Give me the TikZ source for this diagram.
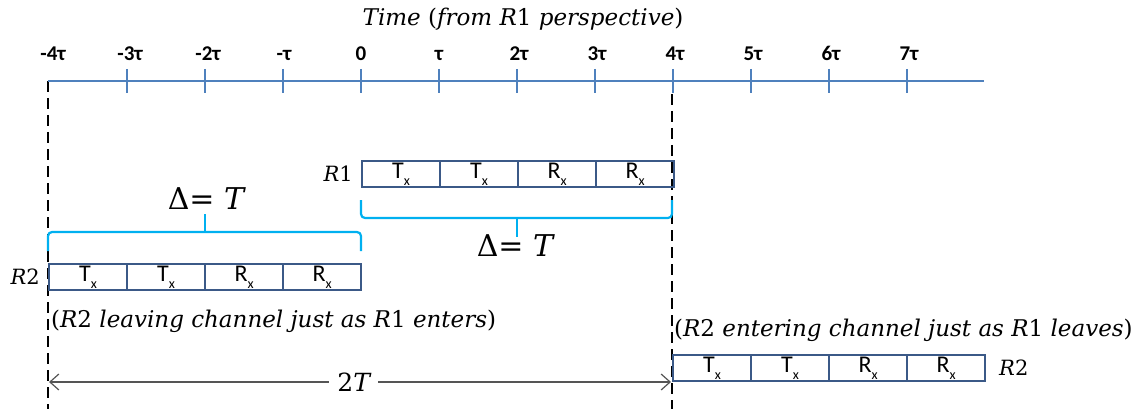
\documentclass[tikz,border=0pt]{standalone}
\usepackage{fontspec}
\newfontfamily\calfont{Carlito}
\newfontfamily\ser{DejaVu Serif}
\usetikzlibrary{arrows.meta}
\definecolor{axisblue}{RGB}{79,129,189}
\definecolor{boxblue}{RGB}{59,89,135}
\definecolor{bracecyan}{RGB}{0,176,240}
\definecolor{arrowgray}{RGB}{85,85,85}
\newcommand{\tx}[1]{#1\raisebox{-0.28em}{\fontsize{14}{14}\selectfont x}}
\newcommand{\up}[1]{{\upshape #1}}
\begin{document}
\begin{tikzpicture}[x=1pt,y=-1pt,
  axisline/.style={draw=axisblue,line width=2.6pt},
  tickline/.style={draw=axisblue,line width=2.4pt},
  ticklabel/.style={font=\calfont\bfseries\fontsize{21}{21}\selectfont,inner sep=0pt,anchor=base},
  cell/.style={draw=boxblue,line width=2.2pt,minimum width=78pt,minimum height=26pt,inner sep=0pt,anchor=west,font=\calfont\fontsize{24}{24}\selectfont},
  marker/.style={draw=black,line width=2.4pt,dash pattern=on 11pt off 6pt},
  bracket/.style={draw=bracecyan,line width=2.2pt,rounded corners=4pt},
  mlabel/.style={font=\ser\itshape\fontsize{21}{21}\selectfont,inner sep=0pt},
  longlabel/.style={font=\ser\itshape\fontsize{23}{23}\selectfont,inner sep=0pt,anchor=base west},
  biglabel/.style={font=\ser\fontsize{30}{30}\selectfont,inner sep=0pt,anchor=base},
  span/.style={draw=arrowgray,line width=1.2pt,{Straight Barb[length=9pt,width=16pt]}-{Straight Barb[length=9pt,width=16pt]}}]
\useasboundingbox (0,0) rectangle (1140,409);
% title
\node[mlabel,anchor=base,font=\ser\itshape\fontsize{23}{23}\selectfont] (title) at (523,26) {Time \up{(}from R\up{1} perspective\up{)}};
% dashed markers
\coordinate (d1top) at (48,81);
\coordinate (d1bot) at (48,409);
\coordinate (d2top) at (672,94);
\coordinate (d2bot) at (672,409);
\draw[marker] (d1top) -- (d1bot);
\draw[marker] (d2top) -- (d2bot);
% axis
\coordinate (ax0) at (48,81);
\coordinate (ax1) at (984,81);
\draw[axisline] (ax0) -- (ax1);
\foreach \i/\lab/\dx in {-4/-4τ/4,-3/-3τ/3,-2/-2τ/3,-1/-τ/1,0/0/0,1/τ/0,2/2τ/2,3/3τ/2,4/4τ/2,5/5τ/2,6/6τ/2,7/7τ/2}{
  \pgfmathsetmacro{\xx}{361+78*\i+\dx}
  \node[ticklabel] (lab\i) at (\xx,61) {\lab};
}
\foreach \i in {-3,...,7}{
  \pgfmathsetmacro{\xx}{361+78*\i}
  \coordinate (ta\i) at (\xx,69);
  \coordinate (tb\i) at (\xx,93);
  \draw[tickline] (ta\i) -- (tb\i);
}
% R1 box
\node[cell] (r1a) at (361,174) {\tx{T}};
\node[cell] (r1b) at (439,174) {\tx{T}};
\node[cell] (r1c) at (517,174) {\tx{R}};
\node[cell] (r1d) at (595,174) {\tx{R}};
\node[mlabel,anchor=base east] (r1lab) at (353,181.5) {R\up{1}};
% R1 brace
\coordinate (b1l) at (361,200);
\coordinate (b1m) at (517,218);
\coordinate (b1t) at (517,237);
\coordinate (b1r) at (672,200);
\draw[bracket] (b1l) |- (b1m) -| (b1r);
\draw[bracket] (b1m) -- (b1t);
\node[biglabel] (delta1) at (515,256) {Δ= \itshape T};
% R2 box (left)
\node[cell] (r2a) at (48,277) {\tx{T}};
\node[cell] (r2b) at (126,277) {\tx{T}};
\node[cell] (r2c) at (204,277) {\tx{R}};
\node[cell] (r2d) at (282,277) {\tx{R}};
\node[mlabel,anchor=base east] (r2lab) at (40,284.5) {R\up{2}};
% R2 brace
\coordinate (b2l) at (48,251);
\coordinate (b2m) at (205,232);
\coordinate (b2t) at (205,214);
\coordinate (b2r) at (361,251);
\draw[bracket] (b2l) |- (b2m) -| (b2r);
\draw[bracket] (b2m) -- (b2t);
\node[biglabel] (delta2) at (206,209) {Δ= \itshape T};
\node[longlabel] (leave) at (51,327) {\up{(}R\up{2} leaving channel just as R\up{1} enters\up{)}};
% R2 box (right)
\node[cell] (r3a) at (672,368) {\tx{T}};
\node[cell] (r3b) at (750,368) {\tx{T}};
\node[cell] (r3c) at (828,368) {\tx{R}};
\node[cell] (r3d) at (906,368) {\tx{R}};
\node[mlabel,anchor=base west] (r3lab) at (999,375.5) {R\up{2}};
\node[longlabel] (enter) at (674,336) {\up{(}R\up{2} entering channel just as R\up{1} leaves\up{)}};
% 2T span
\coordinate (s1) at (49,382);
\coordinate (s2) at (671,382);
\draw[span] (s1) -- node[pos=0.49,fill=white,inner xsep=8pt,inner ysep=1pt,font=\ser\fontsize{25}{25}\selectfont] (twoT) {2\itshape T} (s2);
\end{tikzpicture}
\end{document}
